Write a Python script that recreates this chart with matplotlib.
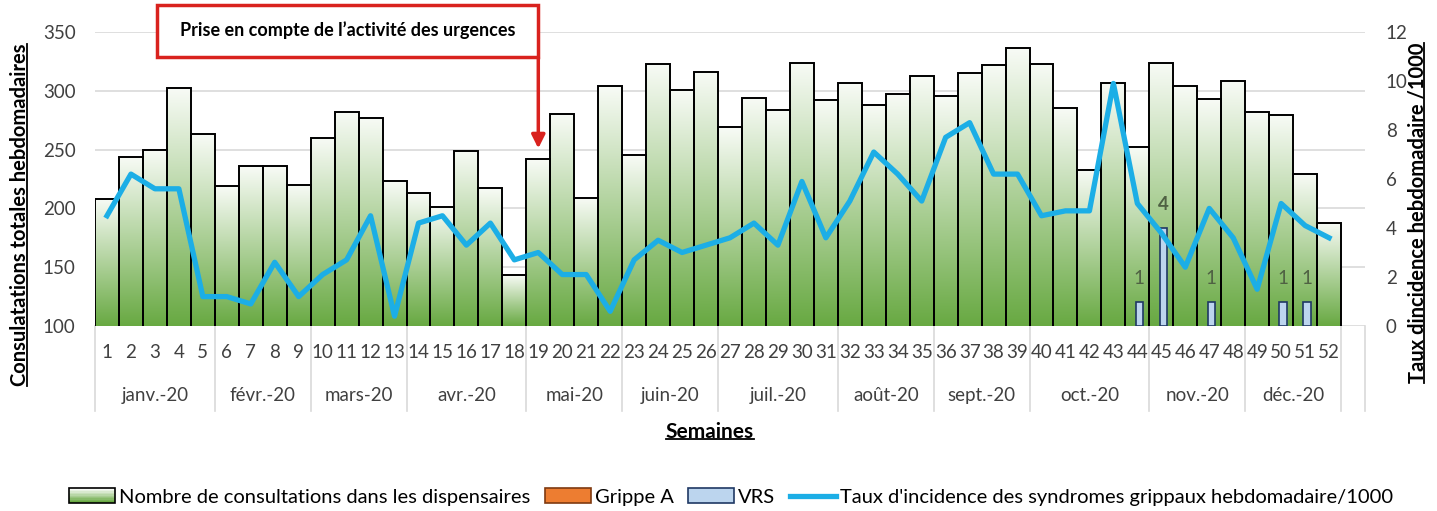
import matplotlib
matplotlib.use('Agg')
import matplotlib.pyplot as plt
import numpy as np
from matplotlib.colors import LinearSegmentedColormap
from matplotlib.patches import Rectangle, Patch
from matplotlib.lines import Line2D
from matplotlib.legend_handler import HandlerBase

plt.rcParams['font.family'] = ['Lato', 'DejaVu Sans']

# données
semaines = list(range(1, 53))
consultations = [208, 244, 250, 302, 263, 219, 236, 236, 220, 260,
                 282, 277, 223, 213, 201, 249, 217, 143, 242, 280,
                 209, 304, 245, 323, 301, 316, 269, 294, 284, 324,
                 292, 307, 288, 297, 313, 296, 315, 322, 336, 323,
                 285, 233, 307, 252, 324, 304, 293, 308, 282, 279,
                 229, 188]
taux = [4.5, 6.2, 5.6, 5.6, 1.2, 1.2, 0.9, 2.6, 1.2, 2.1,
        2.7, 4.5, 0.4, 4.2, 4.5, 3.3, 4.2, 2.7, 3.0, 2.1,
        2.1, 0.6, 2.7, 3.5, 3.0, 3.3, 3.6, 4.2, 3.3, 5.9,
        3.6, 5.1, 7.1, 6.2, 5.1, 7.7, 8.3, 6.2, 6.2, 4.5,
        4.7, 4.7, 9.9, 5.0, 3.8, 2.4, 4.8, 3.6, 1.5, 5.0,
        4.1, 3.6]
vrs_semaines = [44, 45, 47, 50, 51]
vrs = [1, 4, 1, 1, 1]
mois = ['janv.-20', 'févr.-20', 'mars-20', 'avr.-20', 'mai-20', 'juin-20',
        'juil.-20', 'août-20', 'sept.-20', 'oct.-20', 'nov.-20', 'déc.-20']
mois_nb_semaines = [5, 4, 4, 5, 4, 4, 5, 4, 4, 5, 4, 4]

vert = LinearSegmentedColormap.from_list('vert', ['#68a942', '#f8fbf6'])
gris = '#404040'

fig = plt.figure(figsize=(14.37, 5.11), dpi=100)
ax = fig.add_axes([95/1437, 1-326/511, 1270/1437, 294/511])

x = np.arange(len(semaines))
bars = ax.bar(x, consultations, width=1, facecolor='none', edgecolor='black',
              linewidth=1.4, zorder=3)
grad = np.linspace(0, 1, 256).reshape(-1, 1)
for b in bars:
    x0 = b.get_x()
    ax.imshow(grad, extent=[x0, x0 + b.get_width(), 100, b.get_height()],
              origin='lower', cmap=vert, aspect='auto', zorder=2)

ax.set_xlim(-0.5, len(semaines) + 0.5)
ax.set_ylim(100, 350)
ax.set_yticks(range(100, 351, 50))
ax.yaxis.grid(True, color='#d9d9d9', linewidth=1.2)
ax.set_axisbelow(True)
ax.set_xticks([])
ax.tick_params(axis='y', length=0, pad=14, labelsize=13.5, labelcolor=gris)
for s in ax.spines.values():
    s.set_visible(False)

ax2 = ax.twinx()
ax2.set_ylim(0, 12)
ax2.set_yticks(range(0, 13, 2))
ax2.tick_params(axis='y', length=0, pad=15, labelsize=13.5, labelcolor=gris)
for s in ax2.spines.values():
    s.set_visible(False)

xv = np.array(vrs_semaines) - 1 + 0.08
ax2.bar(xv, vrs, width=0.3, facecolor='#bcd5ee', edgecolor='#1f3864',
        linewidth=1.2, zorder=3)
for xi, v in zip(xv, vrs):
    ax2.text(xi, v + 0.95, str(v), ha='center', va='center', fontsize=13.5,
             color='#4f6143', fontweight='bold' if v > 1 else 'normal')
ax2.plot(x, taux, color='#1caee6', linewidth=3.8, solid_joinstyle='round',
         zorder=4)

# axe des abscisses à deux niveaux
tr = ax.get_xaxis_transform()
for i, s in enumerate(semaines):
    ax.text(i, -0.09, str(s), transform=tr, ha='center', va='center',
            fontsize=13.5, color=gris)
bornes = np.concatenate([[0], np.cumsum(mois_nb_semaines)]) - 0.5
for k, m in enumerate(mois):
    ax.text((bornes[k] + bornes[k+1]) / 2, -0.235, m, transform=tr,
            ha='center', va='center', fontsize=13.5, color=gris)
for bx in list(bornes) + [len(semaines) + 0.5]:
    ax.plot([bx, bx], [0, -0.29], transform=tr, color='#d9d9d9', lw=1.2,
            clip_on=False)

# titres des axes (soulignés)
t_sem = fig.text(710/1437, 1-432/511, 'Semaines', ha='center', va='center',
                 fontsize=15, fontweight='bold')
t_g = fig.text(20/1437, 1-215/511, 'Consulatations totales hebdomadaires',
               rotation=90, ha='center', va='center', fontsize=14.5,
               fontweight='bold')
t_d = fig.text(1417/1437, 1-213/511, 'Taux dincidence hebdomadaire /1000',
               rotation=90, ha='center', va='center', fontsize=14.5,
               fontweight='bold')

fig.canvas.draw()
W, H = fig.bbox.width, fig.bbox.height
bb = t_sem.get_window_extent()
fig.add_artist(Line2D([bb.x0/W, bb.x1/W], [(bb.y0+3)/H]*2, color='black', lw=1.3))
for t in (t_g, t_d):
    bb = t.get_window_extent()
    fig.add_artist(Line2D([(bb.x1-3)/W]*2, [bb.y0/H, bb.y1/H], color='black', lw=1.3))

# encadré + flèche
rouge = '#d9221e'
xa = ax.transData.transform((18, 0))[0] / W
fig.add_artist(Rectangle((157/1437, 1-57/511), xa - 157/1437, 52/511,
                         transform=fig.transFigure, facecolor='white',
                         edgecolor=rouge, linewidth=2.5))
fig.text((157/1437 + xa) / 2, 1-30/511, 'Prise en compte de l\u2019activité des urgences',
         ha='center', va='center', fontsize=13, fontweight='bold')
ax.annotate('', xy=(18, 251), xycoords='data',
            xytext=(xa, 1-57/511), textcoords='figure fraction',
            arrowprops=dict(arrowstyle='-|>', color=rouge, lw=2.5,
                            mutation_scale=20, shrinkA=0, shrinkB=0),
            annotation_clip=False)

# légende
class Degrade(HandlerBase):
    def create_artists(self, legend, orig, xd, yd, w, h, fs, trans):
        arts = []
        n = 10
        for k in range(n):
            arts.append(Rectangle((xd, yd + h*k/n), w, h/n, facecolor=vert(k/(n-1)),
                                  edgecolor='none', transform=trans))
        arts.append(Rectangle((xd, yd), w, h, facecolor='none', edgecolor='black',
                              lw=1.2, transform=trans))
        return arts

h_cons = Patch(label='Nombre de consultations dans les dispensaires')
h_grippe = Patch(facecolor='#ed7d31', edgecolor='#7f3a10', lw=1.2, label='Grippe A')
h_vrs = Patch(facecolor='#bcd5ee', edgecolor='#1f3864', lw=1.2, label='VRS')
h_taux = Line2D([], [], color='#1caee6', lw=3.8,
                label='Taux d\'incidence des syndromes grippaux hebdomadaire/1000')
fig.legend(handles=[h_cons, h_grippe, h_vrs, h_taux], handler_map={h_cons: Degrade()},
           loc='center', bbox_to_anchor=(731/1437, 1-497/511), ncol=4, frameon=False,
           fontsize=14.5, handlelength=2.3, handleheight=0.7, handletextpad=0.2,
           columnspacing=0.7)

fig.savefig('out.png', dpi=100)
